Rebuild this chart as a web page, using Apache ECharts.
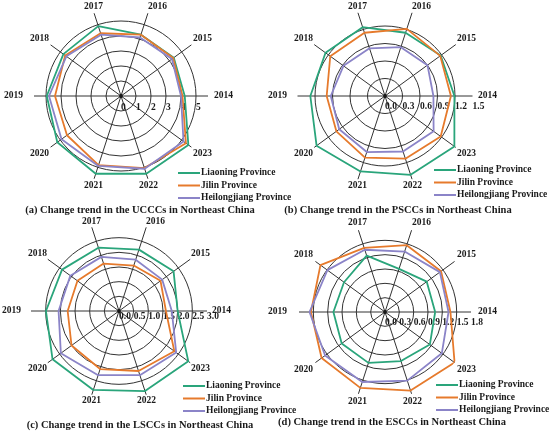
<!DOCTYPE html>
<html>
<head>
<meta charset="utf-8">
<script src="https://cdn.jsdelivr.net/npm/echarts@6/dist/echarts.min.js"></script>
<style>
  html, body { margin: 0; padding: 0; background: #fff; }
  #main { width: 550px; height: 432px; }
</style>
</head>
<body>
<div id="main"></div>
<script>
// categories
const years = ['2014', '2015', '2016', '2017', '2018', '2019', '2020', '2021', '2022', '2023'];
const provinces = ['Liaoning Province', 'Jilin Province', 'Heilongjiang Province'];

// (a) UCCCs
const ucccLiaoning = [4.25, 4.35, 4.3, 4.9, 4.75, 4.95, 5.25, 5.45, 5.45, 5.55];
const ucccJilin = [4.1, 4.3, 4.3, 4.4, 4.6, 4.4, 4.45, 4.85, 5.05, 5.35];
const ucccHeilongjiang = [4.0, 4.2, 4.1, 4.3, 4.5, 4.8, 4.9, 4.9, 5.1, 5.15];

// (b) PSCCs
const psccLiaoning = [1.19, 1.18, 1.14, 1.24, 1.26, 1.28, 1.45, 1.36, 1.42, 1.47];
const psccJilin = [1.13, 1.17, 1.21, 1.14, 1.16, 1.0, 1.03, 1.11, 1.13, 1.18];
const psccHeilongjiang = [0.83, 0.9, 0.88, 0.86, 0.88, 0.93, 0.97, 1.01, 1.0, 1.03];

// (c) LSCCs
const lsccLiaoning = [2.0, 2.3, 2.2, 2.27, 2.4, 2.49, 2.8, 2.83, 2.87, 2.92];
const lsccJilin = [1.6, 1.75, 1.63, 1.7, 1.75, 1.75, 2.0, 2.08, 2.15, 2.33];
const lsccHeilongjiang = [1.8, 1.82, 1.84, 1.94, 2.05, 2.06, 2.45, 2.3, 2.3, 2.41];

// (d) ESCCs
const esccLiaoning = [1.05, 1.08, 0.95, 1.24, 1.06, 1.08, 1.12, 1.12, 1.08, 1.16];
const esccJilin = [1.37, 1.45, 1.47, 1.41, 1.67, 1.55, 1.64, 1.67, 1.73, 1.8];
const esccHeilongjiang = [1.33, 1.42, 1.33, 1.37, 1.49, 1.58, 1.55, 1.54, 1.51, 1.47];

const captions = [
  '(a) Change trend in the UCCCs in Northeast China',
  '(b) Change trend in the PSCCs in Northeast China',
  '(c) Change trend in the LSCCs in Northeast China',
  '(d) Change trend in the ESCCs in Northeast China'
];

const colors = ['#2aa57b', '#e67a2c', '#8b84c8'];
const FONT = 'Liberation Serif';
const TEXT = '#1a1a1a';
const GRID = '#333333';
const STEP = 360 / years.length; // angle per year

// layout of the four panels
const panels = [
  { cx: 121, cy: 96, r: 87, max: 5.8, step: 1, labelMax: 5, dec: 0, tickMargin: -7,
    lx: 178, ly: 168, tx: 140, ty: 205, values: [ucccLiaoning, ucccJilin, ucccHeilongjiang] },
  { cx: 385, cy: 96, r: 87.5, max: 1.5, step: 0.3, labelMax: 1.5, dec: 1, tickMargin: -6,
    lx: 434, ly: 165, tx: 398, ty: 205, values: [psccLiaoning, psccJilin, psccHeilongjiang] },
  { cx: 119, cy: 311, r: 88, max: 3.0, step: 0.5, labelMax: 3.0, dec: 1, tickMargin: -1,
    lx: 183, ly: 381, tx: 140, ty: 420, values: [lsccLiaoning, lsccJilin, lsccHeilongjiang] },
  { cx: 385, cy: 312, r: 86, max: 1.8, step: 0.3, labelMax: 1.8, dec: 1, tickMargin: -6,
    lx: 436, ly: 380, tx: 392, ty: 417, values: [esccLiaoning, esccJilin, esccHeilongjiang] }
];

// year labels sit on a separate, slightly larger ring so near-vertical ones centre
const LABEL_R = 95;
const LABEL_MARGIN = -6;
const yearRich = {
  y2014: { padding: [0, 0, 0, 4] },
  y2016: { padding: [0, 0, 0, 18] },
  y2019: { padding: [0, 9, 0, 0] }
};

// ring colours: every tick gets a circle except the one at max
function ringColors(p) {
  const q = p.max / p.step;
  let n = Math.floor(q + 1e-9) + 1;
  if (Math.abs(q - Math.round(q)) > 1e-9) n += 1;
  const arr = [];
  for (let i = 0; i < n; i++) arr.push(i === n - 1 ? 'rgba(0,0,0,0)' : GRID);
  return arr;
}

// closed loop for the polar line: [radius, angle of the year]
function loop(vals) {
  const d = vals.map((v, i) => [v, i * STEP]);
  d.push([vals[0], years.length * STEP]);
  return d;
}

function yearLabel(v) {
  const y = years[Math.round(v / STEP)];
  if (!y) return '';
  return yearRich['y' + y] ? '{y' + y + '|' + y + '}' : y;
}

const chart = echarts.init(document.getElementById('main'), null, { renderer: 'canvas' });

const series = [];
panels.forEach((p, pi) => {
  p.values.forEach((vals, si) => {
    series.push({
      name: provinces[si],
      type: 'line',
      coordinateSystem: 'polar',
      polarIndex: pi,
      symbol: 'none',
      clip: false,
      data: loop(vals),
      lineStyle: { color: colors[si], width: 1.8 },
      itemStyle: { color: colors[si] },
      z: 3
    });
  });
  // small dot at the pole
  series.push({
    type: 'scatter',
    coordinateSystem: 'polar',
    polarIndex: pi,
    data: [[0, 0]],
    symbolSize: 4,
    itemStyle: { color: '#111' },
    silent: true,
    z: 4
  });
});

const polar = [], angleAxis = [], radiusAxis = [];
panels.forEach((p, i) => {
  polar.push({ center: [p.cx, p.cy], radius: p.r });
  angleAxis.push({
    polarIndex: i, type: 'value', min: 0, max: 360, interval: STEP,
    startAngle: 0, clockwise: false,
    axisLine: { show: false }, axisTick: { show: false }, axisLabel: { show: false },
    splitLine: { show: true, lineStyle: { color: GRID, width: 1 } }
  });
  radiusAxis.push({
    polarIndex: i, type: 'value', min: 0, max: p.max, interval: p.step,
    axisLine: { show: false }, axisTick: { show: false },
    splitLine: { show: true, lineStyle: { color: ringColors(p), width: 1 } },
    axisLabel: {
      showMaxLabel: true, margin: p.tickMargin, align: 'left', verticalAlign: 'top',
      fontFamily: FONT, fontWeight: 'bold', fontSize: 9.5, color: TEXT,
      formatter: v => (v <= p.labelMax + 1e-9 ? v.toFixed(p.dec) : '')
    }
  });
});
// label-only rings
panels.forEach((p, i) => {
  const k = panels.length + i;
  polar.push({ center: [p.cx, p.cy], radius: LABEL_R });
  angleAxis.push({
    polarIndex: k, type: 'value', min: 0, max: 360, interval: STEP,
    startAngle: 0, clockwise: false,
    axisLine: { show: false }, axisTick: { show: false }, splitLine: { show: false },
    axisLabel: {
      margin: LABEL_MARGIN, fontFamily: FONT, fontWeight: 'bold', fontSize: 9.5, color: TEXT,
      formatter: yearLabel, rich: yearRich
    }
  });
  radiusAxis.push({ polarIndex: k, type: 'value', min: 0, max: 1, show: false });
});

chart.setOption({
  animation: false,
  backgroundColor: '#fff',
  title: panels.map((p, i) => ({
    text: captions[i],
    left: p.tx,
    top: p.ty,
    textAlign: 'center',
    padding: 0,
    textStyle: { fontFamily: FONT, fontWeight: 'bold', fontSize: 10.5, color: TEXT }
  })),
  legend: panels.map(p => ({
    data: provinces,
    orient: 'vertical',
    left: p.lx,
    top: p.ly,
    icon: 'rect',
    itemWidth: 22,
    itemHeight: 2,
    itemGap: 2.5,
    padding: 0,
    selectedMode: false,
    textStyle: { fontFamily: FONT, fontWeight: 'bold', fontSize: 9.5, color: TEXT, padding: [0, 0, 0, -4] }
  })),
  polar: polar,
  angleAxis: angleAxis,
  radiusAxis: radiusAxis,
  series: series
});
</script>
</body>
</html>
